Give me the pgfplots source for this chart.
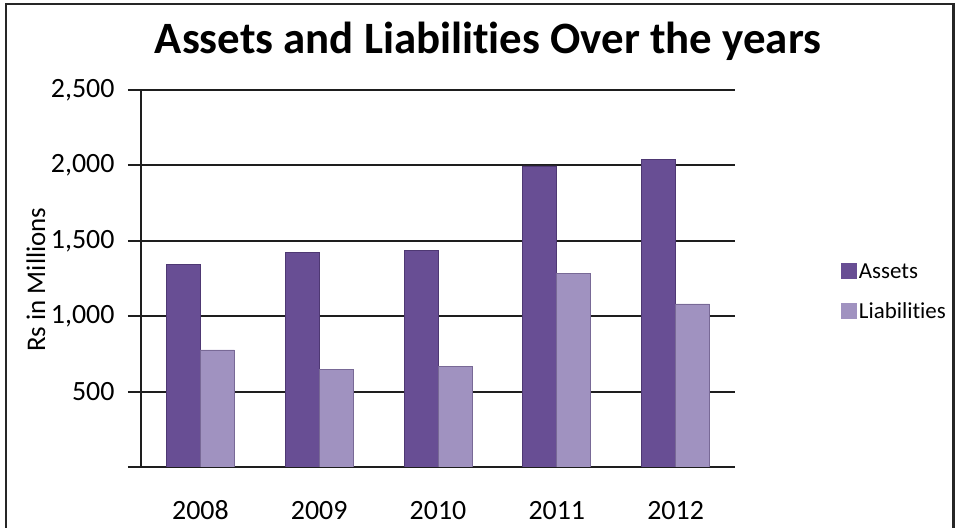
\documentclass[border=0pt]{standalone}
\usepackage{pgfplots}
\pgfplotsset{compat=1.18}
\usepackage{fontspec}
\setmainfont{Carlito}[Ligatures=NoCommon]
\definecolor{assetD}{RGB}{78,56,115}
\definecolor{assetF}{RGB}{104,78,148}
\definecolor{liabD}{RGB}{120,105,150}
\definecolor{liabF}{RGB}{160,146,192}
\definecolor{gridc}{RGB}{30,30,30}
\begin{document}
\begin{tikzpicture}[x=1bp,y=1bp]
\useasboundingbox (0,0) rectangle (956,528);
\draw[line width=2.5bp, black!85] (6,0) -- (6,524) -- (953.5,524) -- (953.5,0);
\node[font=\bfseries\fontsize{45}{50}\selectfont, anchor=base] at (488,474) {Assets and Liabilities Over the years};
\begin{axis}[
 at={(141bp,61bp)}, anchor=south west, scale only axis,
 width=594bp, height=377bp,
 xmin=-0.5, xmax=4.5, ymin=0, ymax=2500,
 ytick={0,500,1000,1500,2000,2500},
 yticklabels={{},500,{1,000},{1,500},{2,000},{2,500}},
 xtick={0,1,2,3,4}, xticklabels={2008,2009,2010,2011,2012},
 axis lines*=left,
 axis line style={line width=2bp, gridc},
 ymajorgrids, major grid style={line width=2bp, gridc},
 tick align=outside, major tick length=13bp,
 y tick style={line width=2bp, gridc},
 x tick style={draw=none},
 tick label style={font=\fontsize{28}{32}\selectfont},
 yticklabel style={xshift=-10bp},
 xticklabel style={anchor=base, yshift=-40bp},
 ylabel={Rs in Millions},
 ylabel style={font=\fontsize{27}{30}\selectfont, at={(axis description cs:-0.177,0.497)}, anchor=center},
 ybar=0pt, bar width=34bp,
 legend style={at={(1.178,0.465)}, anchor=west, draw=none, fill=none,
   font=\fontsize{23}{26}\selectfont, row sep=19bp, inner sep=0pt,
   nodes={inner sep=2bp}},
 legend cell align=left,
 legend image code/.code={\path[#1, draw=none] (0bp,-8bp) rectangle (16bp,8bp);},
]
\addplot[draw=assetD, line width=0.8bp, fill=assetF]
 coordinates {(0,1345) (1,1422) (2,1437) (3,1996) (4,2040)};
\addplot[draw=liabD, line width=0.8bp, fill=liabF]
 coordinates {(0,776) (1,648) (2,665) (3,1286) (4,1081)};
\legend{Assets, Liabilities}
\end{axis}
\end{tikzpicture}
\end{document}
